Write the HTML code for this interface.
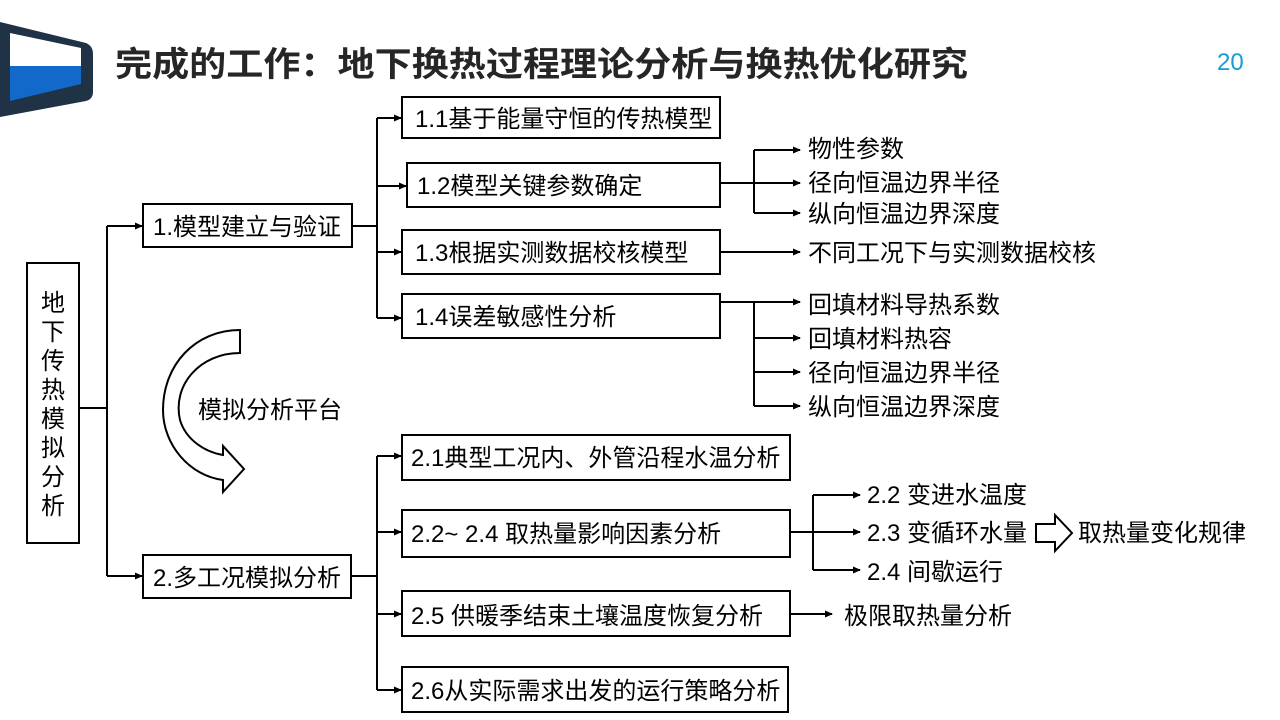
<!DOCTYPE html>
<html><head><meta charset="utf-8"><style>
html,body{margin:0;padding:0;background:#fff;width:1280px;height:720px;overflow:hidden}
svg text{font-family:"Liberation Sans","Noto Sans CJK SC",sans-serif;fill:#000}
</style></head><body>
<svg width="1280" height="720" viewBox="0 0 1280 720" xmlns="http://www.w3.org/2000/svg">
<defs><marker id="a" markerWidth="8" markerHeight="8" refX="7" refY="4" orient="auto" markerUnits="userSpaceOnUse"><path d="M0,0.5 L8,4 L0,7.5 Z" fill="#000"/></marker></defs>
<path d="M0,22 L86,43 Q93,46 93,54 L93,92 Q93,99 86,101 L0,117 Z" fill="#203246"/>
<path d="M10,33 L81,48 L81,66 L10,66 Z" fill="#fff"/>
<path d="M10,66 L81,66 L81,84 L10,101 Z" fill="#1369c9"/>
<text x="115" y="76" font-size="34" font-weight="bold" textLength="853" lengthAdjust="spacingAndGlyphs" style="fill:#262626">完成的工作：地下换热过程理论分析与换热优化研究</text>
<text x="1217" y="70" font-size="24" style="fill:#1a9bd7">20</text>
<g fill="none" stroke="#000" stroke-width="2">
<rect x="27" y="263" width="52" height="280"/>
<rect x="143" y="204" width="209" height="43"/>
<rect x="143" y="555" width="208" height="43"/>
<rect x="402" y="97" width="318" height="41"/>
<rect x="407" y="163" width="313" height="44"/>
<rect x="402" y="230" width="318" height="44"/>
<rect x="402" y="294" width="318" height="44"/>
<rect x="402" y="435" width="388" height="45"/>
<rect x="402" y="510" width="388" height="47"/>
<rect x="402" y="591" width="388" height="45"/>
<rect x="402" y="667" width="386" height="45"/>
</g>
<g fill="none" stroke="#000" stroke-width="2">
<path d="M79,408 H107"/>
<path d="M107,226 V576"/>
<path d="M107,226 H142" marker-end="url(#a)"/>
<path d="M107,576 H142" marker-end="url(#a)"/>
<path d="M352,226 H377"/>
<path d="M377,118 V318"/>
<path d="M377,118 H401" marker-end="url(#a)"/>
<path d="M377,186 H406" marker-end="url(#a)"/>
<path d="M377,252 H401" marker-end="url(#a)"/>
<path d="M377,318 H401" marker-end="url(#a)"/>
<path d="M720,183 H754 M754,150 V213"/>
<path d="M754,150 H800" marker-end="url(#a)"/>
<path d="M754,183 H800" marker-end="url(#a)"/>
<path d="M754,213 H800" marker-end="url(#a)"/>
<path d="M720,252 H800" marker-end="url(#a)"/>
<path d="M720,302 H754 M754,302 V406"/>
<path d="M754,302 H800" marker-end="url(#a)"/>
<path d="M754,338 H800" marker-end="url(#a)"/>
<path d="M754,372 H800" marker-end="url(#a)"/>
<path d="M754,406 H800" marker-end="url(#a)"/>
<path d="M351,576 H377 M377,456 V690"/>
<path d="M377,456 H401" marker-end="url(#a)"/>
<path d="M377,532 H401" marker-end="url(#a)"/>
<path d="M377,614 H401" marker-end="url(#a)"/>
<path d="M377,690 H401" marker-end="url(#a)"/>
<path d="M790,532 H813 M813,495 V570"/>
<path d="M813,495 H860" marker-end="url(#a)"/>
<path d="M813,532 H860" marker-end="url(#a)"/>
<path d="M813,570 H860" marker-end="url(#a)"/>
<path d="M790,614 H832" marker-end="url(#a)"/>
<path d="M1036,524 H1055 V515 L1072,533 L1055,551 V542 H1036 Z"/>
<path d="M240,330 L240,353 C200,353 172,385 180,420 C186,440 205,452 223,455 L223,446 L244,469 L223,492 L223,480 C190,476 163,445 163,410 C163,365 195,330 240,330 Z"/>
</g>
<g font-size="24">
<text x="41" y="311">地</text><text x="41" y="340">下</text><text x="41" y="369">传</text><text x="41" y="398">热</text><text x="41" y="427">模</text><text x="41" y="456">拟</text><text x="41" y="485">分</text><text x="41" y="514">析</text>
<text x="153" y="235">1.模型建立与验证</text>
<text x="153" y="586">2.多工况模拟分析</text>
<text x="415" y="127">1.1基于能量守恒的传热模型</text>
<text x="417" y="194">1.2模型关键参数确定</text>
<text x="415" y="261">1.3根据实测数据校核模型</text>
<text x="415" y="325">1.4误差敏感性分析</text>
<text x="808" y="157">物性参数</text>
<text x="808" y="191">径向恒温边界半径</text>
<text x="808" y="222">纵向恒温边界深度</text>
<text x="808" y="261">不同工况下与实测数据校核</text>
<text x="808" y="313">回填材料导热系数</text>
<text x="808" y="347">回填材料热容</text>
<text x="808" y="381">径向恒温边界半径</text>
<text x="808" y="415">纵向恒温边界深度</text>
<text x="198" y="418">模拟分析平台</text>
<text x="411" y="466">2.1典型工况内、外管沿程水温分析</text>
<text x="411" y="542">2.2~ 2.4 取热量影响因素分析</text>
<text x="411" y="624">2.5 供暖季结束土壤温度恢复分析</text>
<text x="411" y="699">2.6从实际需求出发的运行策略分析</text>
<text x="867" y="503">2.2 变进水温度</text>
<text x="867" y="541">2.3 变循环水量</text>
<text x="867" y="580">2.4 间歇运行</text>
<text x="1078" y="541">取热量变化规律</text>
<text x="844" y="624">极限取热量分析</text>
</g>
</svg>
</body></html>
